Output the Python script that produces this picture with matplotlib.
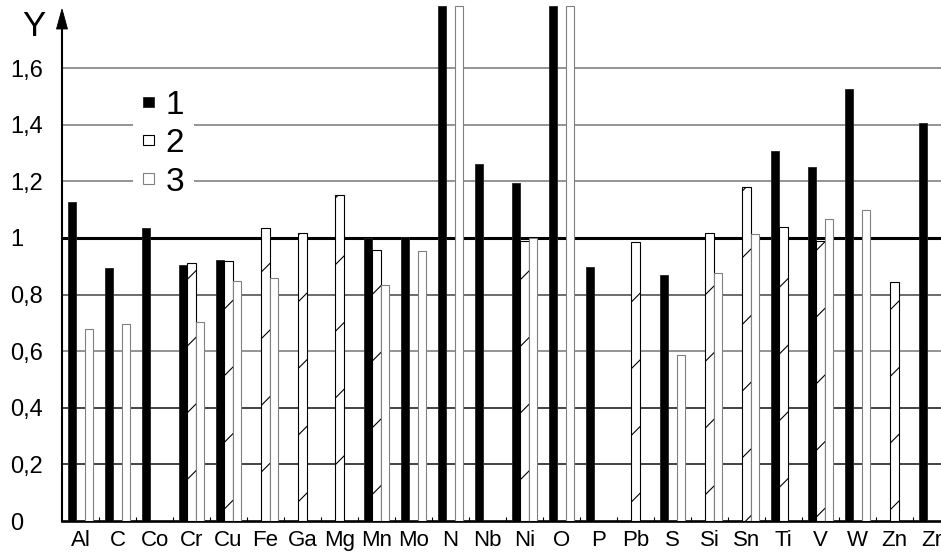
import numpy as np
import matplotlib
matplotlib.use('Agg')
import matplotlib.pyplot as plt
from matplotlib.patches import Patch, Polygon

plt.rcParams['font.family'] = ['Liberation Sans', 'DejaVu Sans']
plt.rcParams['hatch.linewidth'] = 0.4

# data
elements = ['Al', 'C', 'Co', 'Cr', 'Cu', 'Fe', 'Ga', 'Mg', 'Mn', 'Mo', 'N', 'Nb',
            'Ni', 'O', 'P', 'Pb', 'S', 'Si', 'Sn', 'Ti', 'V', 'W', 'Zn', 'Zr']
series1 = [1.127, 0.894, 1.035, 0.905, 0.922, None, None, None, 1.0, 1.003, 1.82, 1.261,
           1.194, 1.82, 0.898, None, 0.869, None, None, 1.307, 1.25, 1.527, None, 1.406]
series2 = [None, None, None, 0.912, 0.919, 1.035, 1.017, 1.152, 0.958, None, None, None,
           0.99, None, None, 0.986, None, 1.017, 1.18, 1.039, 0.99, None, 0.845, None]
series3 = [0.678, 0.696, None, 0.703, 0.848, 0.859, None, None, 0.834, 0.954, 1.82, None,
           1.0, 1.82, None, None, 0.587, 0.876, 1.014, None, 1.067, 1.099, None, None]
legend_labels = ['1', '2', '3']
yticks = [0, 0.2, 0.4, 0.6, 0.8, 1.0, 1.2, 1.4, 1.6]
ytick_labels = ['0', '0,2', '0,4', '0,6', '0,8', '1', '1,2', '1,4', '1,6']

W, H, DPI = 941, 556, 200
fig = plt.figure(figsize=(W / DPI, H / DPI), dpi=DPI)
ax = fig.add_axes([62 / W, 35 / H, 879 / W, 516 / H])

bw = 0.225
styles = [
    dict(facecolor='black', edgecolor='#222222', linewidth=0.3),
    dict(facecolor='white', edgecolor='black', linewidth=0.4, hatch='/'),
    dict(facecolor='white', edgecolor='#808080', linewidth=0.4),
]
offsets = [0.16 + bw / 2, 0.16 + 1.5 * bw, 0.16 + 2.5 * bw]

for vals, off, st in zip([series1, series2, series3], offsets, styles):
    idx = [i for i, v in enumerate(vals) if v is not None]
    h = [vals[i] for i in idx]
    ax.bar(np.array(idx) + off, h, width=bw, zorder=3, **st)

# horizontal lines
grid_colors = {0.2: '#111111', 0.4: '#111111', 0.6: '#777777', 0.8: '#444444',
               1.2: '#777777', 1.4: '#777777', 1.6: '#777777'}
for y, c in grid_colors.items():
    ax.axhline(y, color=c, lw=0.55, zorder=1)
ax.axhline(1.0, color='black', lw=1.1, zorder=1)

ax.set_xlim(0, 879 / 37)
ax.set_ylim(0, 516 / 283)

ax.set_xticks(np.arange(len(elements)) + 0.5)
ax.set_xticklabels(elements, fontsize=8)
ax.set_xticks(np.arange(1, len(elements)), minor=True)
ax.tick_params(axis='x', which='major', length=0, pad=3.4)
ax.tick_params(axis='x', which='minor', direction='in', length=1.5, width=0.4, color='black')

ax.set_yticks(yticks)
ax.set_yticklabels(ytick_labels, fontsize=8.5, ha='left')
ax.tick_params(axis='y', length=0, pad=18.7)

for s in ['top', 'right']:
    ax.spines[s].set_visible(False)
ax.spines['bottom'].set_linewidth(0.95)
ax.spines['left'].set_linewidth(0.75)
ax.spines['left'].set_bounds(0, (521 - 22) / 283)
ax.spines['left'].set_zorder(5)

# arrow on y axis
arrow = Polygon([(62 / W, 1 - 9 / H), (56.5 / W, 1 - 29 / H), (67.5 / W, 1 - 29 / H)],
                closed=True, facecolor='black', edgecolor='black', lw=0.3,
                transform=fig.transFigure)
fig.patches.append(arrow)
fig.text(33.5 / W, 1 - 27 / H, 'Y', fontsize=12.5, ha='center', va='center')

handles = [Patch(**st) for st in styles]
leg = ax.legend(handles, legend_labels, loc='upper left',
                bbox_to_anchor=(133 / W, 1 - 80 / H), bbox_transform=fig.transFigure,
                fontsize=12, frameon=True, framealpha=1, edgecolor='none',
                handlelength=0.32, handleheight=0.09, handletextpad=0.35,
                labelspacing=0.22, borderpad=0.3, borderaxespad=0)
leg.get_frame().set_linewidth(0)
leg.set_zorder(6)

fig.savefig('out.png', dpi=DPI)
